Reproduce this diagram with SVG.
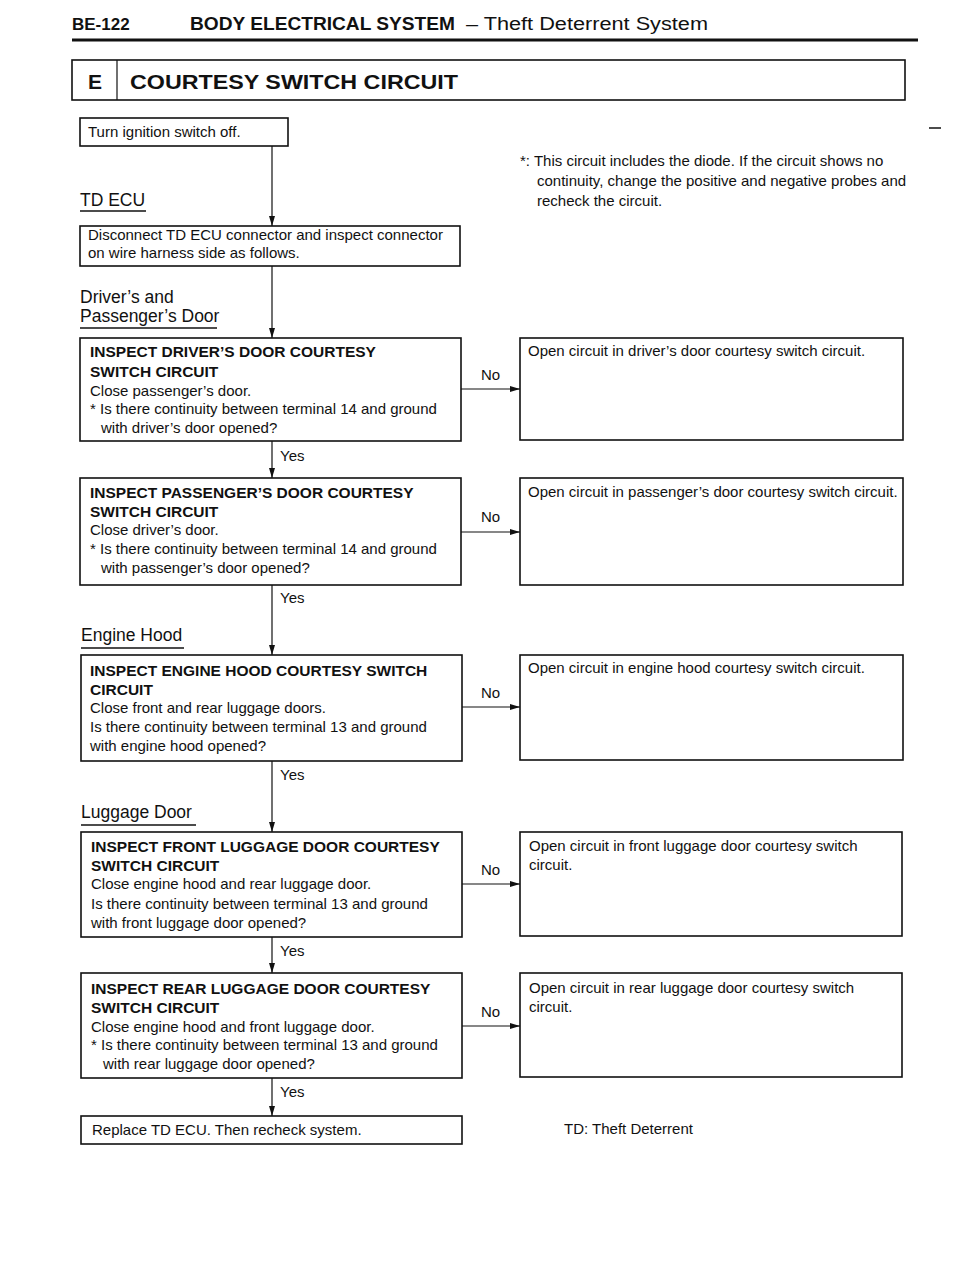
<svg xmlns="http://www.w3.org/2000/svg" width="960" height="1280" viewBox="0 0 960 1280">
<style>
text{font-family:"Liberation Sans",Arial,Helvetica,sans-serif;fill:#111;}
.t{font-size:15px;}
.b{font-size:15.5px;font-weight:bold;}
.lbl{font-size:17.5px;}
.yn{font-size:15px;}
.box{fill:#fff;stroke:#111;stroke-width:1.6;}
.ln{stroke:#111;stroke-width:1.2;fill:none;}
.ul{stroke:#111;stroke-width:1.3;}
</style>
<defs>
<marker id="ah" viewBox="0 0 10 6" refX="10" refY="3" markerWidth="10" markerHeight="6" markerUnits="userSpaceOnUse" orient="auto">
<path d="M0,0 L10,3 L0,6 Z" fill="#111"/>
</marker>
</defs>
<rect width="960" height="1280" fill="#fff"/>

<g id="header">
<text x="72" y="30" font-size="17" font-weight="bold">BE-122</text>
<text x="190" y="30" font-size="18" font-weight="bold" textLength="265" lengthAdjust="spacingAndGlyphs">BODY ELECTRICAL SYSTEM</text>
<text x="466" y="30" font-size="18" textLength="242" lengthAdjust="spacingAndGlyphs">– Theft Deterrent System</text>
<line x1="72" y1="40" x2="918" y2="40" stroke="#111" stroke-width="3"/>
<line x1="929" y1="128" x2="941" y2="128" stroke="#111" stroke-width="1.5"/>
</g>

<g id="section-title">
<rect x="72" y="60" width="833" height="40" class="box"/>
<line x1="117" y1="60" x2="117" y2="100" class="ln" stroke-width="1.5"/>
<text x="88" y="89" font-size="21" font-weight="bold">E</text>
<text x="130" y="89" font-size="21" font-weight="bold" textLength="328" lengthAdjust="spacingAndGlyphs">COURTESY SWITCH CIRCUIT</text>
</g>

<g id="note">
<text class="t" x="520" y="166">*: This circuit includes the diode. If the circuit shows no</text>
<text class="t" x="537" y="186">continuity, change the positive and negative probes and</text>
<text class="t" x="537" y="206">recheck the circuit.</text>
</g>

<g id="labels">
<text class="lbl" x="80" y="206">TD ECU</text>
<line x1="80" y1="211" x2="146" y2="211" class="ul"/>
<text class="lbl" x="80" y="303">Driver’s and</text>
<text class="lbl" x="80" y="322">Passenger’s Door</text>
<line x1="80" y1="328" x2="217" y2="328" class="ul"/>
<text class="lbl" x="81" y="641">Engine Hood</text>
<line x1="81" y1="648" x2="184" y2="648" class="ul"/>
<text class="lbl" x="81" y="818">Luggage Door</text>
<line x1="81" y1="825" x2="196" y2="825" class="ul"/>
<text class="t" x="564" y="1134">TD: Theft Deterrent</text>
</g>

<g id="connectors">
<line x1="272" y1="146" x2="272" y2="226" class="ln" marker-end="url(#ah)"/>
<line x1="272" y1="266" x2="272" y2="338" class="ln" marker-end="url(#ah)"/>
<line x1="272" y1="441" x2="272" y2="478" class="ln" marker-end="url(#ah)"/>
<line x1="272" y1="585" x2="272" y2="655" class="ln" marker-end="url(#ah)"/>
<line x1="272" y1="761" x2="272" y2="832" class="ln" marker-end="url(#ah)"/>
<line x1="272" y1="937" x2="272" y2="973" class="ln" marker-end="url(#ah)"/>
<line x1="272" y1="1078" x2="272" y2="1116" class="ln" marker-end="url(#ah)"/>
<text class="yn" x="280" y="461">Yes</text>
<text class="yn" x="280" y="603">Yes</text>
<text class="yn" x="280" y="780">Yes</text>
<text class="yn" x="280" y="956">Yes</text>
<text class="yn" x="280" y="1097">Yes</text>
<line x1="461" y1="389" x2="520" y2="389" class="ln" marker-end="url(#ah)"/>
<line x1="461" y1="532" x2="520" y2="532" class="ln" marker-end="url(#ah)"/>
<line x1="461" y1="707" x2="520" y2="707" class="ln" marker-end="url(#ah)"/>
<line x1="462" y1="884" x2="520" y2="884" class="ln" marker-end="url(#ah)"/>
<line x1="462" y1="1026" x2="520" y2="1026" class="ln" marker-end="url(#ah)"/>
<text class="yn" x="481" y="380">No</text>
<text class="yn" x="481" y="522">No</text>
<text class="yn" x="481" y="698">No</text>
<text class="yn" x="481" y="875">No</text>
<text class="yn" x="481" y="1017">No</text>
</g>

<g id="n-ignition">
<rect x="80" y="118" width="208" height="28" class="box"/>
<text class="t" x="88" y="137">Turn ignition switch off.</text>
</g>

<g id="n-disconnect">
<rect x="80" y="226" width="380" height="40" class="box"/>
<text class="t" x="88" y="240">Disconnect TD ECU connector and inspect connector</text>
<text class="t" x="88" y="258">on wire harness side as follows.</text>
</g>

<g id="n-driver">
<rect x="80" y="338" width="381" height="103" class="box"/>
<text class="b" x="90" y="357">INSPECT DRIVER’S DOOR COURTESY</text>
<text class="b" x="90" y="377">SWITCH CIRCUIT</text>
<text class="t" x="90" y="396">Close passenger’s door.</text>
<text class="t" x="90" y="414">* Is there continuity between terminal 14 and ground</text>
<text class="t" x="101" y="433">with driver’s door opened?</text>
</g>

<g id="n-passenger">
<rect x="80" y="478" width="381" height="107" class="box"/>
<text class="b" x="90" y="498">INSPECT PASSENGER’S DOOR COURTESY</text>
<text class="b" x="90" y="517">SWITCH CIRCUIT</text>
<text class="t" x="90" y="535">Close driver’s door.</text>
<text class="t" x="90" y="554">* Is there continuity between terminal 14 and ground</text>
<text class="t" x="101" y="573">with passenger’s door opened?</text>
</g>

<g id="n-hood">
<rect x="81" y="655" width="381" height="106" class="box"/>
<text class="b" x="90" y="676">INSPECT ENGINE HOOD COURTESY SWITCH</text>
<text class="b" x="90" y="695">CIRCUIT</text>
<text class="t" x="90" y="713">Close front and rear luggage doors.</text>
<text class="t" x="90" y="732">Is there continuity between terminal 13 and ground</text>
<text class="t" x="90" y="751">with engine hood opened?</text>
</g>

<g id="n-front-luggage">
<rect x="81" y="832" width="381" height="105" class="box"/>
<text class="b" x="91" y="852">INSPECT FRONT LUGGAGE DOOR COURTESY</text>
<text class="b" x="91" y="871">SWITCH CIRCUIT</text>
<text class="t" x="91" y="889">Close engine hood and rear luggage door.</text>
<text class="t" x="91" y="909">Is there continuity between terminal 13 and ground</text>
<text class="t" x="91" y="928">with front luggage door opened?</text>
</g>

<g id="n-rear-luggage">
<rect x="81" y="973" width="381" height="105" class="box"/>
<text class="b" x="91" y="994">INSPECT REAR LUGGAGE DOOR COURTESY</text>
<text class="b" x="91" y="1013">SWITCH CIRCUIT</text>
<text class="t" x="91" y="1032">Close engine hood and front luggage door.</text>
<text class="t" x="91" y="1050">* Is there continuity between terminal 13 and ground</text>
<text class="t" x="103" y="1069">with rear luggage door opened?</text>
</g>

<g id="n-replace">
<rect x="81" y="1116" width="381" height="28" class="box"/>
<text class="t" x="92" y="1135">Replace TD ECU. Then recheck system.</text>
</g>

<g id="r-driver">
<rect x="520" y="338" width="383" height="102" class="box"/>
<text class="t" x="528" y="356">Open circuit in driver’s door courtesy switch circuit.</text>
</g>
<g id="r-passenger">
<rect x="520" y="478" width="383" height="107" class="box"/>
<text class="t" x="528" y="497">Open circuit in passenger’s door courtesy switch circuit.</text>
</g>
<g id="r-hood">
<rect x="520" y="655" width="383" height="105" class="box"/>
<text class="t" x="528" y="673">Open circuit in engine hood courtesy switch circuit.</text>
</g>
<g id="r-front-luggage">
<rect x="520" y="832" width="382" height="104" class="box"/>
<text class="t" x="529" y="851">Open circuit in front luggage door courtesy switch</text>
<text class="t" x="529" y="870">circuit.</text>
</g>
<g id="r-rear-luggage">
<rect x="520" y="973" width="382" height="104" class="box"/>
<text class="t" x="529" y="993">Open circuit in rear luggage door courtesy switch</text>
<text class="t" x="529" y="1012">circuit.</text>
</g>
</svg>
